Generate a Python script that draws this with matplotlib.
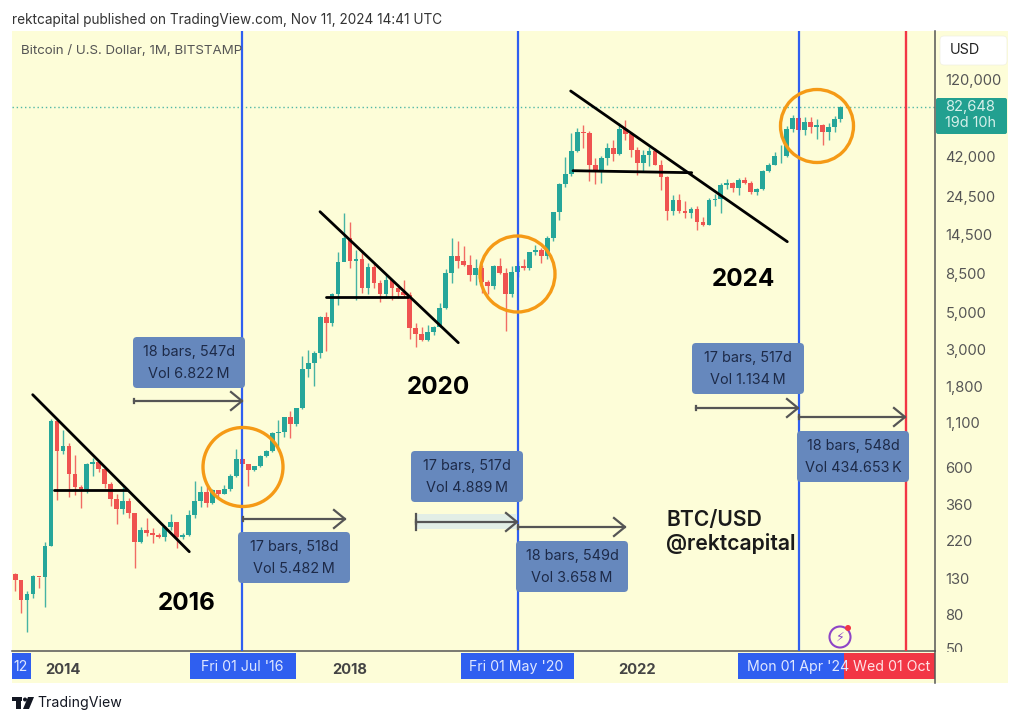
from matplotlib import pyplot as plt
from matplotlib.patches import Ellipse, FancyBboxPatch, Polygon, Rectangle
from matplotlib.ticker import FixedLocator, NullLocator

plt.rcParams['font.family'] = ['Inter', 'DejaVu Sans']

# monthly candles, May 2013 -> Nov 2024
opens = [139, 129, 97, 106, 135, 133, 205, 1130,
         750, 805, 549, 457, 447, 627, 640, 586, 477, 387, 338, 378,
         320, 217, 254, 244, 236, 230, 263, 284, 230, 236, 314, 377,
         430, 369, 437, 416, 448, 531, 672, 624, 575, 609, 700, 745,
         963, 970, 1190, 1080, 1350, 2300, 2480, 2870, 4700, 4340, 6440, 9900,
         13880, 10100, 10300, 6925, 9240, 7490, 6390, 7730, 7010, 6610, 6300, 4020,
         3700, 3430, 3810, 4100, 5270, 8550, 10760, 10080, 9600, 8290, 9150, 7560,
         7190, 9350, 8520, 6410, 8620, 9450, 9135, 11350, 11650, 10780, 13800, 19700,
         29000, 33100, 45200, 58800, 57700, 37300, 35000, 41500, 47100, 43800, 61300, 57000,
         46200, 38500, 43200, 45500, 37700, 31800, 19980, 23300, 20050, 19430, 20490, 17170,
         16540, 23130, 23500, 28450, 29250, 27200, 30470, 29230, 25940, 26960, 34650, 37720,
         42260, 42580, 61180, 71330, 60670, 67490, 62770, 64620, 58970, 63330, 70290]
closes = [129, 97, 106, 135, 133, 205, 1130, 750,
          805, 549, 457, 447, 627, 640, 586, 477, 387, 338, 378, 320,
          217, 254, 244, 236, 230, 263, 284, 230, 236, 314, 377, 430,
          369, 437, 416, 448, 531, 672, 624, 575, 609, 700, 745, 963,
          970, 1190, 1080, 1350, 2300, 2480, 2870, 4700, 4340, 6440, 9900, 13880,
          10100, 10300, 6925, 9240, 7490, 6390, 7730, 7010, 6610, 6300, 4020, 3700,
          3430, 3810, 4100, 5270, 8550, 10760, 10080, 9600, 8290, 9150, 7560, 7190,
          9350, 8520, 6410, 8620, 9450, 9135, 11350, 11650, 10780, 13800, 19700, 29000,
          33100, 45200, 58800, 57700, 37300, 35000, 41500, 47100, 43800, 61300, 57000, 46200,
          38500, 43200, 45500, 37700, 31800, 19980, 23300, 20050, 19430, 20490, 17170, 16540,
          23130, 23500, 28450, 29250, 27200, 30470, 29230, 25940, 26960, 34650, 37720, 42260,
          42580, 61180, 71330, 60670, 67490, 62770, 64620, 58970, 63330, 70290, 82648]
highs = [142, 129, 110, 138, 134, 215, 1163, 1153,
         998, 840, 710, 470, 633, 683, 660, 600, 490, 418, 458, 393,
         320, 265, 300, 260, 245, 268, 318, 285, 245, 335, 500, 465,
         465, 448, 425, 470, 550, 770, 680, 620, 612, 710, 755, 970,
         1150, 1195, 1290, 1350, 2760, 2980, 2950, 4750, 5000, 6470, 11400, 19450,
         17200, 11780, 11700, 9750, 10000, 7780, 8450, 7750, 7400, 7770, 6600, 4300,
         4100, 4200, 4130, 5650, 9090, 13880, 13200, 12300, 10950, 10400, 9520, 7750,
         9580, 10500, 9190, 9470, 10080, 10400, 11450, 12500, 12080, 14100, 19500, 29300,
         42000, 58400, 61800, 65000, 59500, 41300, 42400, 50500, 52900, 67000, 69000, 59000,
         47900, 45800, 48200, 47400, 40000, 32400, 24700, 25200, 22800, 21000, 21500, 18400,
         23900, 25300, 29200, 31000, 29800, 31400, 31800, 30200, 27500, 35000, 38400, 44700,
         49000, 64000, 73800, 72700, 72000, 72000, 70000, 65600, 66500, 73600, 84000]
lows = [110, 82, 63, 100, 115, 88, 205, 383,
        717, 400, 410, 343, 420, 530, 560, 450, 355, 275, 318, 300,
        152, 212, 235, 214, 228, 220, 253, 198, 225, 235, 300, 350,
        350, 365, 390, 415, 435, 525, 605, 465, 570, 600, 690, 740,
        750, 910, 890, 1060, 1330, 2050, 1830, 2670, 2950, 4150, 5500, 10700,
        9200, 5900, 6500, 6430, 7000, 5750, 6070, 5880, 6100, 6200, 3470, 3100,
        3350, 3380, 3670, 4060, 5260, 7450, 9100, 9350, 7700, 7300, 6510, 6400,
        6850, 8400, 3850, 6150, 8100, 8900, 8900, 10950, 9850, 10360, 13200, 17600,
        27700, 32300, 44900, 47000, 30000, 28800, 29300, 37300, 39600, 43100, 53000, 42000,
        32900, 34300, 37100, 37600, 26700, 17600, 18800, 19500, 18200, 18200, 15500, 16300,
        16500, 21400, 19550, 26900, 25800, 24800, 28900, 25200, 24900, 26500, 34100, 37600,
        38500, 41900, 59100, 59600, 56500, 58400, 53500, 49000, 52500, 58900, 67500]

price_ticks = [120000, 42000, 24500, 14500, 8500, 5000, 3000, 1800, 1100, 600, 360, 220, 130, 80, 50]
year_pos = [8, 56, 104]
year_labels = ['2014', '2018', '2022']
# bar index of the marked months: Jul 16, May 20, Apr 24, Oct 25
blue_months = [38, 84, 131]
red_month = 149

measure_boxes = [
    (133, 337, '18 bars, 547d', 'Vol 6.822\u2009M'),
    (238, 532, '17 bars, 518d', 'Vol 5.482\u2009M'),
    (411, 451, '17 bars, 517d', 'Vol 4.889\u2009M'),
    (516, 541, '18 bars, 549d', 'Vol 3.658\u2009M'),
    (692, 343, '17 bars, 517d', 'Vol 1.134\u2009M'),
    (797, 431, '18 bars, 548d', 'Vol 434.653\u2009K'),
]
arrows = [(134, 242, 401), (243, 345, 519), (416, 517, 522),
          (518, 625, 527), (696, 798, 408), (799, 905, 417)]
trendlines = [
    (32.7, 394.7, 189.3, 551.7), (54, 490, 127, 490),
    (320, 211.7, 458.3, 342.7), (325.7, 296.7, 408.3, 296.7),
    (570.7, 91, 787.3, 241.7), (573, 170.7, 691.7, 172.7),
]
circles = [(243, 467, 40, 39.5), (517.5, 274, 37.5, 38), (817, 126, 36.5, 36.5)]

BG = '#fdfdd8'
UP = '#26a69a'
DOWN = '#ef5350'
BLUE = '#2f5ff0'
RED = '#f23645'
GREY = '#555555'
W, H = 1024, 723

fig = plt.figure(figsize=(W / 100, H / 100), dpi=100, facecolor='white')
fig.add_artist(Rectangle((12 / W, 1 - 683 / H), 996 / W, 652 / H, transform=fig.transFigure,
                         fc=BG, ec='none', zorder=-1))

# price pane, 12..935 x 31..651 px
ax = fig.add_axes([12 / W, 1 - 651 / H, 923 / W, 620 / H], facecolor='none')
ax.set_yscale('log')
ax.set_xlim(-0.52, 153.8)
ax.set_ylim(10 ** 1.686, 10 ** 5.370)

xs = list(range(len(opens)))
colors = [UP if c >= o else DOWN for o, c in zip(opens, closes)]
ax.vlines(xs, lows, highs, colors=colors, linewidth=1.0, alpha=0.85, zorder=2)
ax.bar(xs, [abs(c - o) for o, c in zip(opens, closes)], bottom=[min(o, c) for o, c in zip(opens, closes)],
       width=0.8, color=colors, linewidth=0, zorder=3)

ax.axhline(closes[-1], color=UP, linestyle=(0, (1, 2)), linewidth=1.0, alpha=0.8, zorder=1)
for m in blue_months:
    ax.axvline(m, color=BLUE, linewidth=1.6, zorder=4)
ax.axvline(red_month, color=RED, linewidth=1.7, zorder=4)

for s in ['top', 'left']:
    ax.spines[s].set_visible(False)
ax.spines['right'].set_color(GREY)
ax.spines['bottom'].set_color(GREY)
ax.spines['right'].set_linewidth(1.1)
ax.spines['bottom'].set_linewidth(1.1)
ax.yaxis.tick_right()
ax.yaxis.set_major_locator(FixedLocator(price_ticks))
ax.yaxis.set_minor_locator(NullLocator())
ax.set_yticklabels([f'{p:,}' for p in price_ticks])
ax.tick_params(axis='y', length=0, pad=7.5, labelsize=10.6, labelcolor='#555555')
ax.set_xticks(year_pos, year_labels)
ax.tick_params(axis='x', length=0, pad=9, labelsize=10.6, labelcolor='#444444')
for lab in ax.get_xticklabels():
    lab.set_fontweight('bold')

# annotations in pixel coordinates
ov = fig.add_axes([0, 0, 1, 1], facecolor='none', zorder=5)
ov.set_xlim(0, W)
ov.set_ylim(H, 0)
ov.axis('off')

ov.text(12, 20, 'rektcapital published on TradingView.com, Nov 11, 2024 14:41 UTC',
        fontsize=9.8, color='#333333', va='center')
ov.text(21, 51, 'Bitcoin / U.S. Dollar, 1M, BITSTAMP', fontsize=9.6, color='#555555', va='center')

# covers the lower half of the clipped "50" label
ov.add_patch(Rectangle((936, 652), 72, 31, fc=BG, ec='none'))
ov.plot([935, 935], [651, 683], color=GREY, lw=1.1)

ov.add_patch(FancyBboxPatch((942, 38), 63, 25, boxstyle='round,pad=2,rounding_size=4', fc='white', ec='#f0f0e0', lw=0.5))
ov.text(950, 50, 'USD', fontsize=10.4, color='#222222', va='center')
ov.add_patch(FancyBboxPatch((937, 99), 69, 34, boxstyle='round,pad=1,rounding_size=2', fc='#22a090', ec='none'))
ov.text(945, 107, '82,648', fontsize=10.6, color='#d5f0ea', va='center')
ov.text(945, 123, '19d 10h', fontsize=10.4, color='#d5f0ea', va='center')

for x0, y0, x1, y1 in trendlines:
    ov.plot([x0, x1], [y0, y1], color='black', lw=2.0, solid_capstyle='round')

for cx, cy, rx, ry in circles:
    ov.add_patch(Ellipse((cx, cy), 2 * rx, 2 * ry, fc='none', ec='#f59a16', lw=2.4))

ov.add_patch(Rectangle((416, 514), 101, 15, fc='#e2eee6', ec='none'))
for x0, x1, y in arrows:
    ov.plot([x0, x1], [y, y], color=GREY, lw=1.6)
    ov.plot([x1 - 11, x1, x1 - 11], [y - 9, y, y + 9], color=GREY, lw=1.6)
    ov.plot([x0, x0], [y - 2, y + 2], color=GREY, lw=1.6)
ov.plot([416, 416], [514, 530], color=GREY, lw=1.6)

for x, y, line1, line2 in measure_boxes:
    ov.add_patch(FancyBboxPatch((x + 2, y + 2), 108, 47, boxstyle='round,pad=2,rounding_size=4',
                                fc='#6688bd', ec='none'))
    ov.text(x + 56, y + 15, line1, fontsize=10.4, color='#1d2a48', ha='center', va='center')
    ov.text(x + 56, y + 37, line2, fontsize=10.4, color='#1d2a48', ha='center', va='center')

ov.text(187, 603, '2016', fontsize=17.5, fontweight='bold', color='black', ha='center', va='center')
ov.text(438, 388, '2020', fontsize=17.5, fontweight='bold', color='black', ha='center', va='center')
ov.text(743, 280, '2024', fontsize=17.5, fontweight='bold', color='black', ha='center', va='center')
ov.text(666, 520, 'BTC/USD', fontsize=15.2, fontweight='semibold', color='#1a1a1a', va='center')
ov.text(666, 543, '@rektcapital', fontsize=15.2, fontweight='semibold', color='#1a1a1a', va='center')

# time axis tags
ov.add_patch(Rectangle((12, 653), 19, 26, fc=BLUE, ec='none'))
ov.text(21, 667, '12', fontsize=10.2, color='#dfe7ff', ha='center', va='center')
for x0, x1, label in [(190, 296, "Fri 01 Jul '16"), (461, 574, "Fri 01 May '20"), (738, 860, "Mon 01 Apr '24")]:
    ov.add_patch(Rectangle((x0, 653), x1 - x0, 26, fc=BLUE, ec='none'))
    ov.text((x0 + x1) / 2 - 1, 667, label, fontsize=10.2, color='#dfe7ff', ha='center', va='center')
ov.add_patch(Rectangle((844, 653), 91, 26, fc=RED, ec='none'))
ov.text(892, 667, 'Wed 01 Oct', fontsize=10.2, color='#ffe3e6', ha='center', va='center')

# indicator badge
ov.add_patch(Ellipse((840, 637), 21, 21, fc='none', ec='#8e44c7', lw=1.5))
ov.text(840, 637, '\u26a1', fontsize=9, color='#8e44c7', ha='center', va='center', family='DejaVu Sans')
ov.add_patch(Ellipse((848, 628), 6, 6, fc=RED, ec='none'))

# footer logo
ov.add_patch(Rectangle((12, 697), 10, 4, fc='#131722', ec='none'))
ov.add_patch(Rectangle((16, 697), 5, 12, fc='#131722', ec='none'))
ov.add_patch(Ellipse((25, 699.5), 4, 4, fc='#131722', ec='none'))
ov.add_patch(Polygon([(28, 697), (34, 697), (29, 709), (23, 709)], fc='#131722', ec='none'))
ov.text(37, 703, 'TradingView', fontsize=10.2, color='#131722', va='center')

fig.savefig('out.png', dpi=100)
